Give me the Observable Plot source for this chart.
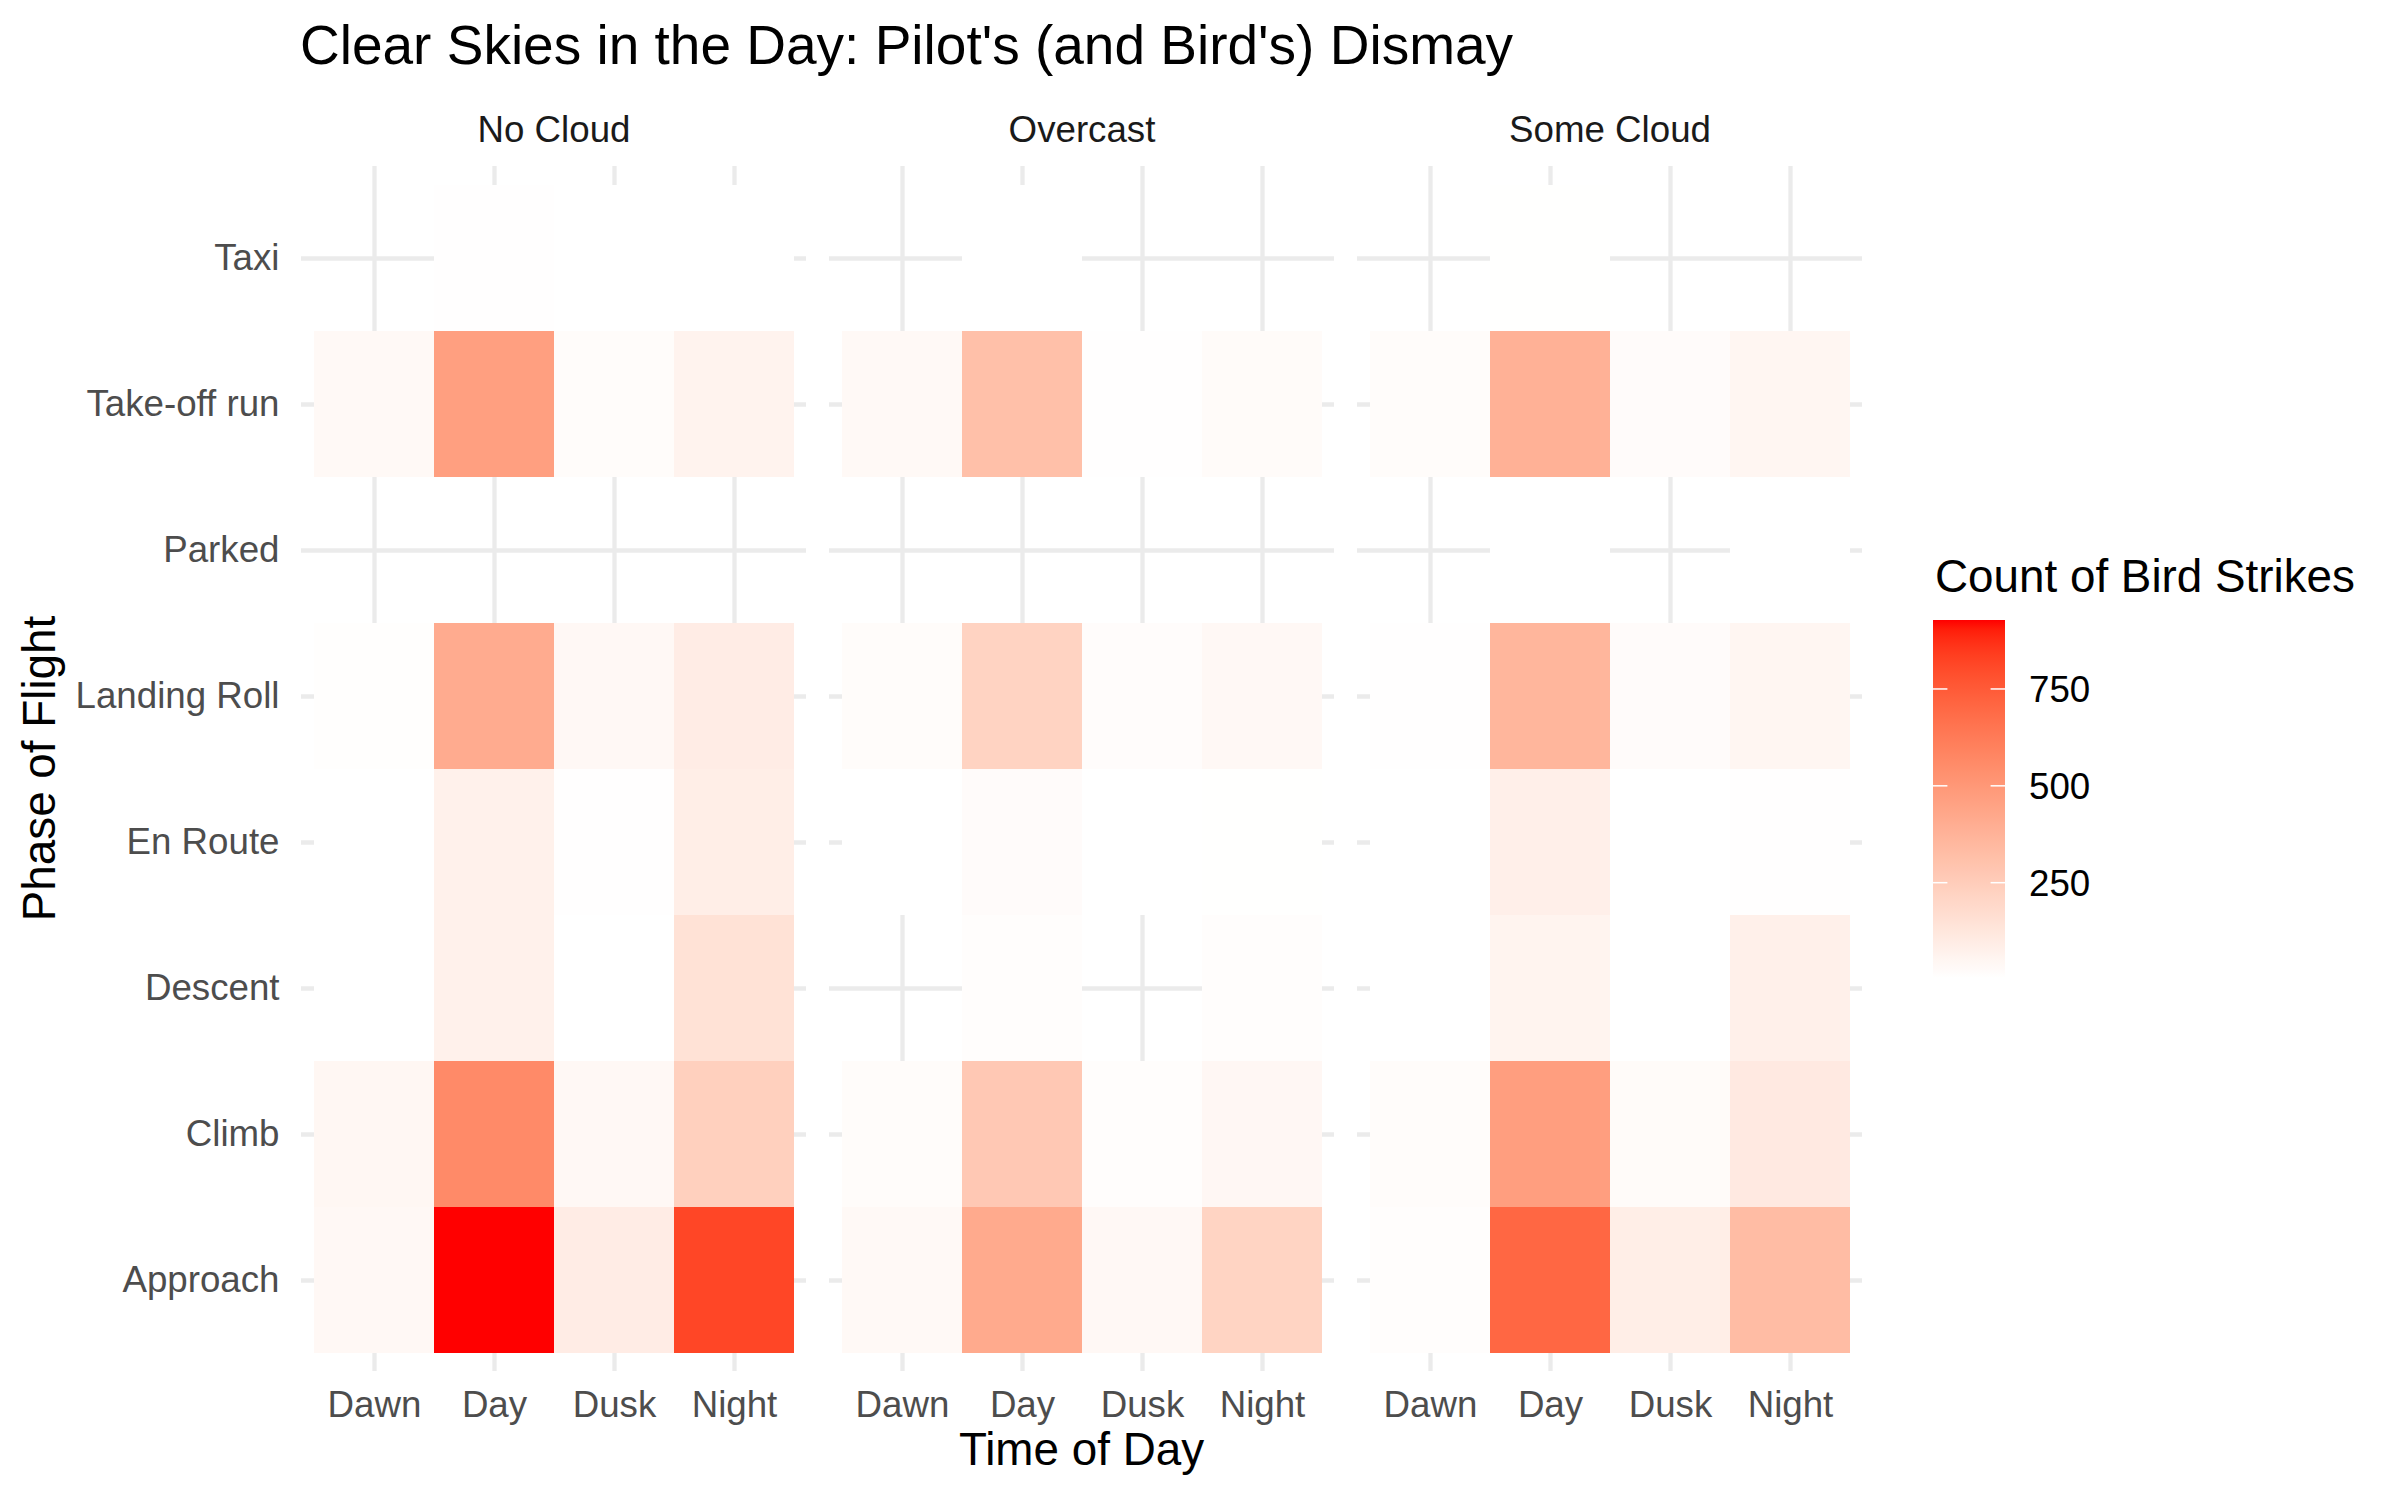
<!DOCTYPE html>
<html><head><meta charset="utf-8">
<script src="https://cdn.jsdelivr.net/npm/d3@7"></script>
<script src="https://cdn.jsdelivr.net/npm/@observablehq/plot@0.6"></script>
<style>
body{margin:0;background:#fff;}
#wrap{position:relative;width:2399px;height:1499px;overflow:hidden;font-family:"Liberation Sans",Arial,Helvetica,sans-serif;background:#fff;}
#title{position:absolute;left:300px;top:18px;font-size:55px;line-height:55px;color:#000;white-space:nowrap;}
#plot{position:absolute;left:0;top:100px;}
#legend{position:absolute;left:1880px;top:540px;}
</style></head><body>
<div id="wrap">
  <div id="title">Clear Skies in the Day: Pilot's (and Bird's) Dismay</div>
  <div id="plot"></div>
  <div id="legend"></div>
</div>
<script>
const FONT = '"Liberation Sans", Arial, Helvetica, sans-serif';

// Facets, columns, rows
const clouds = ["No Cloud", "Overcast", "Some Cloud"];
const times = ["Dawn", "Day", "Dusk", "Night"];
const phases = ["Taxi", "Take-off run", "Parked", "Landing Roll", "En Route", "Descent", "Climb", "Approach"];

// Counts of bird strikes: rows = phases, columns = times (null = no record)
const noCloud = [
  [null, 8, 4, 4],
  [35, 466, 20, 65],
  [null, null, null, null],
  [10, 411, 40, 97],
  [5, 74, 8, 88],
  [4, 74, 4, 148],
  [45, 560, 40, 236],
  [40, 928, 97, 815]
];
const overcast = [
  [null, 4, null, null],
  [35, 314, 8, 25],
  [null, null, null, null],
  [20, 222, 18, 40],
  [4, 22, 4, 6],
  [null, 15, null, 14],
  [20, 273, 15, 42],
  [35, 416, 38, 217]
];
const someCloud = [
  [null, 6, null, null],
  [20, 383, 22, 50],
  [null, 5, null, 4],
  [8, 360, 22, 48],
  [4, 83, 4, 8],
  [4, 60, 4, 79],
  [20, 471, 25, 111],
  [15, 706, 88, 333]
];
const legendTicks = [250, 500, 750];

const tables = [noCloud, overcast, someCloud];
const data = [];
clouds.forEach((cloud, c) => {
  tables[c].forEach((row, i) => {
    row.forEach((v, j) => {
      if (v != null) data.push({cloud, phase: phases[i], time: times[j], count: v});
    });
  });
});
const extent = d3.extent(data, d => d.count);

const plot = Plot.plot({
  width: 1880,
  height: 1399,
  marginTop: 66,
  marginBottom: 128,
  marginLeft: 300,
  marginRight: 17,
  style: {fontFamily: FONT, background: "white", color: "#000"},
  fx: {domain: clouds, paddingInner: 0.0435, paddingOuter: 0, label: null},
  x: {domain: times, paddingInner: 0, paddingOuter: 0.1, label: null},
  y: {domain: phases, paddingInner: 0, paddingOuter: 0.1, label: null},
  color: {type: "linear", domain: extent, range: ["white", "red"], interpolate: d3.interpolateLab},
  marks: [
    Plot.gridX({stroke: "#ebebeb", strokeOpacity: 1, strokeWidth: 4.3}),
    Plot.gridY({stroke: "#ebebeb", strokeOpacity: 1, strokeWidth: 4.3}),
    Plot.cell(data, {fx: "cloud", x: "time", y: "phase", fill: "count", inset: 0, shapeRendering: "crispEdges"}),
    Plot.axisX({tickSize: 0, tickPadding: 19, fontSize: 36.7, fill: "#4d4d4d", label: null}),
    Plot.axisY({tickSize: 0, tickPadding: 22, fontSize: 36.7, fill: "#4d4d4d", label: null}),
    Plot.axisFx({anchor: "top", tickSize: 0, tickPadding: 25, fontSize: 36.7, fill: "#1a1a1a", label: null})
  ]
});
document.getElementById("plot").appendChild(plot);

// Axis titles
const svg = d3.select(plot);
svg.append("text")
  .attr("transform", "translate(55,668.5) rotate(-90)")
  .attr("text-anchor", "middle")
  .attr("font-family", FONT).attr("font-size", 45.8).attr("fill", "#000")
  .text("Phase of Flight");
svg.append("text")
  .attr("x", (300 + 1863) / 2).attr("y", 1365)
  .attr("text-anchor", "middle")
  .attr("font-family", FONT).attr("font-size", 45.8).attr("fill", "#000")
  .text("Time of Day");

// Colourbar legend
const color = plot.scale("color");
const [lo, hi] = color.domain;
const barX = 53, barW = 72, barTop = 80, barBot = 438;
const ly = d3.scaleLinear().domain([lo, hi]).range([barBot, barTop]);
const lsvg = d3.select("#legend").append("svg").attr("width", 519).attr("height", 470)
  .style("font-family", FONT);
const grad = lsvg.append("defs").append("linearGradient").attr("id", "g")
  .attr("x1", 0).attr("y1", 1).attr("x2", 0).attr("y2", 0);
d3.range(0, 41).forEach(k => {
  const f = k / 40;
  grad.append("stop").attr("offset", f).attr("stop-color", color.apply(lo + f * (hi - lo)));
});
lsvg.append("text").attr("x", 55).attr("y", 52).attr("font-size", 45.8).attr("fill", "#000")
  .text("Count of Bird Strikes");
lsvg.append("rect").attr("x", barX).attr("y", barTop).attr("width", barW).attr("height", barBot - barTop)
  .attr("fill", "url(#g)");
legendTicks.forEach(t => {
  const y = ly(t);
  lsvg.append("line").attr("x1", barX).attr("x2", barX + barW / 5).attr("y1", y).attr("y2", y)
    .attr("stroke", "white").attr("stroke-width", 1.5);
  lsvg.append("line").attr("x1", barX + barW - barW / 5).attr("x2", barX + barW).attr("y1", y).attr("y2", y)
    .attr("stroke", "white").attr("stroke-width", 1.5);
  lsvg.append("text").attr("x", 149).attr("y", y).attr("dy", "0.35em")
    .attr("font-size", 36.7).attr("fill", "#000").text(t);
});
</script>
</body></html>
